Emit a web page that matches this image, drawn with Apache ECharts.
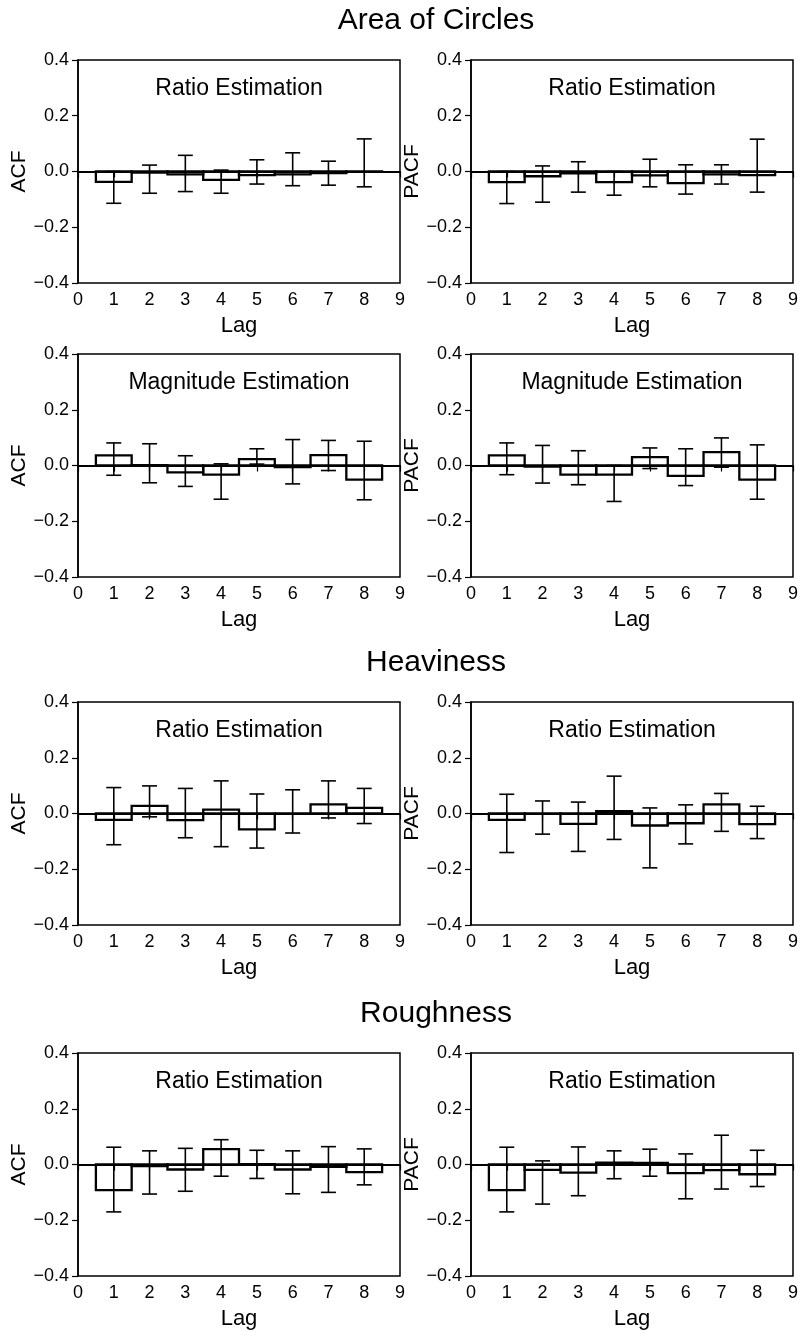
<!DOCTYPE html>
<html>
<head>
    <meta charset="UTF-8">
    <title>ACF / PACF</title>
    <script src="https://cdn.jsdelivr.net/npm/echarts@6/dist/echarts.min.js"></script>
    <style>
        html, body { margin: 0; padding: 0; background: #fff; }
        #main { width: 801px; height: 1341px; }
    </style>
</head>
<body>
    <div id="main"></div>
    <script>
        // lags and tick labels
        var lags = [1, 2, 3, 4, 5, 6, 7, 8];
        var sectionTitles = ['Area of Circles', 'Heaviness', 'Roughness'];

        // Area of Circles - Ratio Estimation
        var areaRatioACF = [-0.037, -0.004, -0.010, -0.030, -0.013, -0.010, -0.006, -0.001];
        var areaRatioACFLow = [-0.114, -0.078, -0.072, -0.078, -0.045, -0.051, -0.049, -0.055];
        var areaRatioACFHigh = [0.000, 0.023, 0.058, 0.005, 0.042, 0.067, 0.037, 0.117];
        var areaRatioPACF = [-0.038, -0.017, -0.007, -0.038, -0.014, -0.042, -0.010, -0.013];
        var areaRatioPACFLow = [-0.115, -0.110, -0.074, -0.085, -0.055, -0.081, -0.045, -0.074];
        var areaRatioPACFHigh = [0.000, 0.020, 0.035, 0.000, 0.044, 0.024, 0.024, 0.116];

        // Area of Circles - Magnitude Estimation
        var areaMagACF = [0.036, 0.001, -0.025, -0.033, 0.023, -0.006, 0.037, -0.051];
        var areaMagACFLow = [-0.035, -0.062, -0.075, -0.121, 0.005, -0.066, -0.018, -0.123];
        var areaMagACFHigh = [0.081, 0.078, 0.035, 0.006, 0.060, 0.093, 0.090, 0.087];
        var areaMagPACF = [0.036, -0.004, -0.033, -0.033, 0.030, -0.037, 0.048, -0.051];
        var areaMagPACFLow = [-0.033, -0.063, -0.069, -0.129, -0.011, -0.072, -0.006, -0.121];
        var areaMagPACFHigh = [0.081, 0.072, 0.053, 0.000, 0.063, 0.060, 0.099, 0.074];

        // Heaviness - Ratio Estimation
        var heavyACF = [-0.023, 0.027, -0.024, 0.014, -0.057, 0.000, 0.033, 0.020];
        var heavyACFLow = [-0.112, -0.012, -0.087, -0.119, -0.124, -0.070, -0.016, -0.036];
        var heavyACFHigh = [0.093, 0.099, 0.090, 0.117, 0.070, 0.085, 0.117, 0.090];
        var heavyPACF = [-0.023, -0.001, -0.037, 0.008, -0.043, -0.035, 0.033, -0.038];
        var heavyPACFLow = [-0.140, -0.074, -0.136, -0.093, -0.195, -0.109, -0.064, -0.090];
        var heavyPACFHigh = [0.069, 0.045, 0.041, 0.134, 0.020, 0.031, 0.072, 0.026];

        // Roughness - Ratio Estimation
        var roughACF = [-0.092, -0.006, -0.018, 0.055, 0.001, -0.018, -0.008, -0.027];
        var roughACFLow = [-0.170, -0.106, -0.096, -0.042, -0.050, -0.105, -0.100, -0.073];
        var roughACFHigh = [0.062, 0.049, 0.058, 0.089, 0.051, 0.049, 0.064, 0.056];
        var roughPACF = [-0.092, -0.019, -0.029, 0.007, 0.006, -0.031, -0.020, -0.035];
        var roughPACFLow = [-0.170, -0.142, -0.112, -0.051, -0.042, -0.123, -0.088, -0.079];
        var roughPACFHigh = [0.062, 0.013, 0.063, 0.049, 0.055, 0.038, 0.105, 0.051];

        var panels = [
            { row: 0, col: 0, name: 'ACF', sub: 'Ratio Estimation', v: areaRatioACF, lo: areaRatioACFLow, hi: areaRatioACFHigh },
            { row: 0, col: 1, name: 'PACF', sub: 'Ratio Estimation', v: areaRatioPACF, lo: areaRatioPACFLow, hi: areaRatioPACFHigh },
            { row: 1, col: 0, name: 'ACF', sub: 'Magnitude Estimation', v: areaMagACF, lo: areaMagACFLow, hi: areaMagACFHigh },
            { row: 1, col: 1, name: 'PACF', sub: 'Magnitude Estimation', v: areaMagPACF, lo: areaMagPACFLow, hi: areaMagPACFHigh },
            { row: 2, col: 0, name: 'ACF', sub: 'Ratio Estimation', v: heavyACF, lo: heavyACFLow, hi: heavyACFHigh },
            { row: 2, col: 1, name: 'PACF', sub: 'Ratio Estimation', v: heavyPACF, lo: heavyPACFLow, hi: heavyPACFHigh },
            { row: 3, col: 0, name: 'ACF', sub: 'Ratio Estimation', v: roughACF, lo: roughACFLow, hi: roughACFHigh },
            { row: 3, col: 1, name: 'PACF', sub: 'Ratio Estimation', v: roughPACF, lo: roughPACFLow, hi: roughPACFHigh }
        ];

        var FONT = '"Liberation Sans", Arial, Helvetica, sans-serif';
        var colLeft = [78, 471];
        var rowTop = [60, 354, 702, 1053];
        var W = 322, H = 223;

        var grids = [], xAxes = [], yAxes = [], series = [], graphics = [];

        panels.forEach(function (p, i) {
            var left = colLeft[p.col], top = rowTop[p.row];
            grids.push({
                left: left, top: top, width: W, height: H,
                show: true, borderColor: '#000', borderWidth: 1.5, backgroundColor: 'transparent'
            });
            xAxes.push({
                gridIndex: i, type: 'value', min: 0, max: 9, interval: 1,
                name: 'Lag', nameLocation: 'middle', nameGap: 32,
                nameTextStyle: { fontFamily: FONT, fontSize: 22, color: '#000' },
                axisLine: { lineStyle: { color: '#000', width: 1.5 } },
                axisTick: { length: 6, lineStyle: { color: '#000', width: 1.2 } },
                axisLabel: { fontFamily: FONT, fontSize: 18, color: '#000', margin: 8 },
                splitLine: { show: false }
            });
            yAxes.push({
                gridIndex: i, type: 'value', min: -0.4, max: 0.4, interval: 0.2,
                name: p.name, nameLocation: 'middle', nameGap: p.col === 0 ? 48 : 45,
                nameTextStyle: { fontFamily: FONT, fontSize: 21, color: '#000' },
                axisLine: { lineStyle: { color: '#000', width: 1.5 } },
                axisTick: { length: 6, lineStyle: { color: '#000', width: 1.2 } },
                axisLabel: {
                    fontFamily: FONT, fontSize: 18, color: '#000', margin: 9,
                    formatter: function (v) {
                        if (Math.abs(v) < 1e-9) return '0.0';
                        return v.toFixed(1).replace('-', '\u2212');
                    }
                },
                splitLine: { show: false }
            });

            // bars drawn as outlined steps of width 1
            series.push({
                type: 'custom', xAxisIndex: i, yAxisIndex: i,
                data: lags.map(function (l, k) { return [l, p.v[k]]; }),
                renderItem: function (params, api) {
                    var a = api.coord([api.value(0) - 0.5, api.value(1)]);
                    var b = api.coord([api.value(0) + 0.5, 0]);
                    return {
                        type: 'rect',
                        shape: { x: a[0], y: Math.min(a[1], b[1]), width: b[0] - a[0], height: Math.abs(b[1] - a[1]) },
                        style: { fill: 'none', stroke: '#000', lineWidth: 2.3 }
                    };
                },
                markLine: {
                    silent: true, symbol: 'none', label: { show: false },
                    lineStyle: { color: '#000', width: 2.2, type: 'solid' },
                    data: [{ yAxis: 0 }]
                }
            });

            // error bars
            series.push({
                type: 'custom', xAxisIndex: i, yAxisIndex: i,
                data: lags.map(function (l, k) { return [l, p.lo[k], p.hi[k]]; }),
                renderItem: function (params, api) {
                    var lo = api.coord([api.value(0), api.value(1)]);
                    var hi = api.coord([api.value(0), api.value(2)]);
                    var c = 7.5;
                    var st = { stroke: '#000', lineWidth: 1.6 };
                    return {
                        type: 'group',
                        children: [
                            { type: 'line', shape: { x1: lo[0], y1: lo[1], x2: hi[0], y2: hi[1] }, style: st },
                            { type: 'line', shape: { x1: lo[0] - c, y1: lo[1], x2: lo[0] + c, y2: lo[1] }, style: st },
                            { type: 'line', shape: { x1: hi[0] - c, y1: hi[1], x2: hi[0] + c, y2: hi[1] }, style: st }
                        ]
                    };
                }
            });

            // panel subtitle
            graphics.push({
                type: 'text', x: left + W / 2, y: top + 29,
                style: { text: p.sub, font: '23px ' + FONT, fill: '#000', align: 'center', verticalAlign: 'middle' }
            });
        });

        // section titles
        var titleY = [21, 663, 1014];
        sectionTitles.forEach(function (t, k) {
            graphics.push({
                type: 'text', x: 436, y: titleY[k],
                style: { text: t, font: '30px ' + FONT, fill: '#000', align: 'center', verticalAlign: 'middle' }
            });
        });

        var myChart = echarts.init(document.getElementById('main'));
        myChart.setOption({
            animation: false,
            backgroundColor: '#fff',
            grid: grids,
            xAxis: xAxes,
            yAxis: yAxes,
            series: series,
            graphic: graphics
        });
    </script>
</body>
</html>
